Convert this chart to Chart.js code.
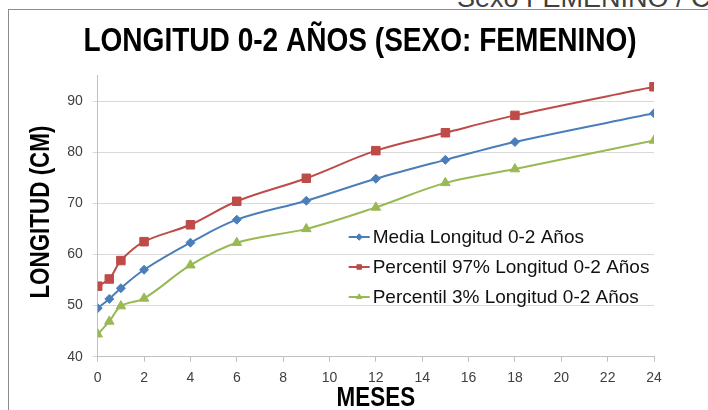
<!DOCTYPE html>
<html>
<head>
<meta charset="utf-8">
<script src="https://cdn.jsdelivr.net/npm/chart.js@4/dist/chart.umd.min.js"></script>
<style>
  html, body { margin: 0; padding: 0; background: #fff; overflow: hidden; }
  #wrap { position: relative; width: 708px; height: 410px; overflow: hidden; }
  #frame { position: absolute; left: 8px; top: 9px; width: 800px; height: 600px; border: 1px solid #8c8c8c; }
  #corner { position: absolute; left: 457px; top: -15px; font: 27px 'Liberation Sans', Arial, sans-serif; line-height: 27px; color: #404040; white-space: nowrap; }
  canvas { position: absolute; left: 0; top: 0; }
</style>
</head>
<body>
<div id="wrap">
  <div id="frame"></div>
  <div id="corner">Sexo FEMENINO / C</div>
  <canvas id="c" width="708" height="410"></canvas>
</div>
<script>
// ---- data ----
const months = [0, 0.5, 1, 2, 4, 6, 9, 12, 15, 18, 24];
const media = [49.5, 51.3, 53.4, 57.0, 62.3, 66.8, 70.5, 74.8, 78.5, 82.0, 87.6];
const p97 = [53.8, 55.2, 58.8, 62.5, 65.8, 70.4, 74.9, 80.3, 83.8, 87.2, 92.8];
const p3 = [44.4, 46.9, 49.9, 51.4, 57.9, 62.3, 65.0, 69.2, 74.0, 76.7, 82.3];
const seriesNames = ['Media Longitud 0-2 Años', 'Percentil 97% Longitud 0-2 Años', 'Percentil 3% Longitud 0-2 Años'];
const titleText = 'LONGITUD 0-2 AÑOS (SEXO: FEMENINO)';
const xTitle = 'MESES';
const yTitle = 'LONGITUD (CM)';

const toXY = (vals) => months.map((m, i) => ({ x: m, y: vals[i] }));

const regular = "'Liberation Sans', Arial, sans-serif";

// condensed bold text (Calibri-like proportions) drawn on the chart canvas
function condensed(ctx, text, x, y, size, rot, sx) {
  ctx.save();
  ctx.translate(x, y);
  if (rot) ctx.rotate(rot);
  ctx.scale(sx, 1);
  ctx.font = 'bold ' + size + 'px ' + regular;
  ctx.fillStyle = '#000';
  ctx.textAlign = 'center';
  ctx.textBaseline = 'middle';
  ctx.fillText(text, 0, 0);
  ctx.restore();
}

const textPlugin = {
  id: 'titles',
  afterDraw(chart) {
    const ctx = chart.ctx;
    const ca = chart.chartArea;
    condensed(ctx, titleText, 360, 42, 34, 0, 0.825);
    condensed(ctx, xTitle, (ca.left + ca.right) / 2, 399, 27, 0, 0.83);
    condensed(ctx, yTitle, 42, (ca.top + ca.bottom) / 2 - 4, 27, -Math.PI / 2, 0.83);
  }
};

const legendPlugin = {
  id: 'insideLegend',
  afterDraw(chart) {
    const ctx = chart.ctx;
    const ca = chart.chartArea;
    const x0 = ca.left + 251;
    const y0 = 237;
    ctx.save();
    chart.data.datasets.forEach((ds, i) => {
      const y = y0 + i * 30;
      ctx.strokeStyle = ds.borderColor;
      ctx.lineWidth = 2;
      ctx.beginPath();
      ctx.moveTo(x0, y);
      ctx.lineTo(x0 + 21, y);
      ctx.stroke();
      ctx.fillStyle = ds.backgroundColor;
      ctx.strokeStyle = ds.borderColor;
      ctx.lineWidth = 1;
      Chart.helpers.drawPoint(ctx, { pointStyle: ds.pointStyle, radius: 3.2, borderWidth: 1, rotation: 0 }, x0 + 10.5, y);
      ctx.fillStyle = '#111';
      ctx.font = '19px ' + regular;
      ctx.textBaseline = 'middle';
      ctx.textAlign = 'left';
      ctx.fillText(ds.label, x0 + 24, y + 1);
    });
    ctx.restore();
  }
};

new Chart(document.getElementById('c'), {
  type: 'line',
  data: {
    datasets: [
      { label: seriesNames[0], data: toXY(media), borderColor: '#4a7ebb', backgroundColor: '#4a7ebb', pointStyle: 'rectRot', pointRadius: 4.5 },
      { label: seriesNames[1], data: toXY(p97), borderColor: '#be4b48', backgroundColor: '#be4b48', pointStyle: 'rect', pointRadius: 6 },
      { label: seriesNames[2], data: toXY(p3), borderColor: '#98b954', backgroundColor: '#98b954', pointStyle: 'triangle', pointRadius: 5.5 }
    ]
  },
  options: {
    responsive: false,
    animation: false,
    devicePixelRatio: 1,
    layout: { padding: { left: 12, right: 0, top: 75.5, bottom: 0 } },
    elements: {
      line: { borderWidth: 2, tension: 0.35, fill: false },
      point: { borderWidth: 1, hoverRadius: 5 }
    },
    plugins: {
      legend: { display: false },
      tooltip: { enabled: false },
      title: { display: false }
    },
    scales: {
      x: {
        type: 'linear',
        min: 0, max: 24,
        ticks: { stepSize: 2, color: '#404040', font: { family: regular, size: 14 }, padding: 8, maxRotation: 0 },
        grid: { drawOnChartArea: false, drawTicks: true, tickLength: 5, color: '#bfbfbf' },
        border: { color: '#bfbfbf', width: 1 },
        title: { display: false },
        afterFit(s) { s.height = 53.3; }
      },
      y: {
        type: 'linear',
        min: 40, max: 95,
        afterBuildTicks(s) { s.ticks = s.ticks.filter(t => t.value % 10 === 0); },
        ticks: { stepSize: 10, color: '#404040', font: { family: regular, size: 14 }, padding: 10 },
        grid: { color: '#d9d9d9', drawTicks: true, tickLength: 5 },
        border: { color: '#bfbfbf', width: 1 },
        title: { display: false },
        afterFit(s) { s.width = 85.7; }
      },
      yR: {
        type: 'linear',
        position: 'right',
        display: true,
        ticks: { display: false },
        grid: { display: false, drawTicks: false },
        border: { display: false },
        afterFit(s) { s.width = 54; }
      }
    }
  },
  plugins: [textPlugin, legendPlugin]
});
</script>
</body>
</html>
